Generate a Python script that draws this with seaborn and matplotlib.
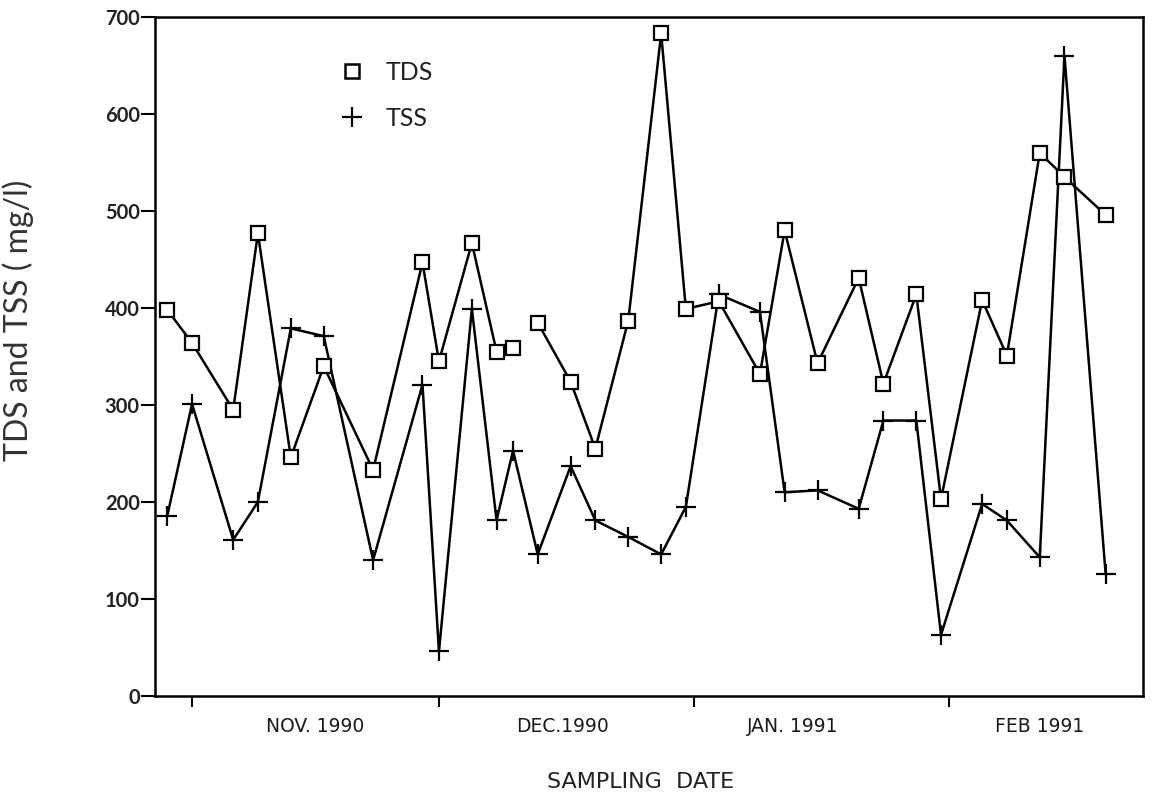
import matplotlib
matplotlib.use("Agg")
import matplotlib.pyplot as plt
import matplotlib.dates as mdates
from matplotlib.lines import Line2D
from matplotlib.ticker import FixedLocator, NullFormatter, FixedFormatter
import pandas as pd
import seaborn as sns

# Sampling campaign, Oct 1990 - Feb 1991
sampling_dates = [
    "1990-10-29", "1990-11-01", "1990-11-06", "1990-11-09", "1990-11-13",
    "1990-11-17", "1990-11-23", "1990-11-29", "1990-12-01", "1990-12-05",
    "1990-12-08", "1990-12-10", "1990-12-13", "1990-12-17", "1990-12-20",
    "1990-12-24", "1990-12-28", "1990-12-31", "1991-01-04", "1991-01-09",
    "1991-01-12", "1991-01-16", "1991-01-21", "1991-01-24", "1991-01-28",
    "1991-01-31", "1991-02-05", "1991-02-08", "1991-02-12", "1991-02-15",
    "1991-02-20",
]
tds = [398, 364, 295, 477, 246, 340, 233, 447, 345, 467,
       355, 359, 385, 324, 255, 387, 683, 399, 407, 332,
       480, 343, 431, 322, 414, 203, 408, 351, 560, 535,
       496]
tss = [186, 301, 161, 200, 379, 371, 140, 321, 46, 399,
       181, 253, 146, 237, 181, 164, 146, 195, 414, 396,
       210, 212, 193, 284, 284, 63, 198, 181, 143, 660,
       126]
# TDS trace is drawn as separate connected runs
tds_run = [0] * 11 + [1] + [2] * 19

month_starts = ["1990-11-01", "1990-12-01", "1991-01-01", "1991-02-01"]
month_labels = ["NOV. 1990", "DEC.1990", "JAN. 1991", "FEB 1991"]
month_label_dates = ["1990-11-16", "1990-12-16", "1991-01-13", "1991-02-12"]
y_ticks = [0, 100, 200, 300, 400, 500, 600, 700]

df = pd.DataFrame({
    "date": pd.to_datetime(sampling_dates),
    "TDS": tds,
    "TSS": tss,
    "run": tds_run,
})

sns.set_theme(style="white")
plt.rcParams["font.family"] = ["Lato", "DejaVu Sans"]

W, H = 1154, 793
fig = plt.figure(figsize=(W / 100, H / 100), dpi=100)
fig.patch.set_facecolor("white")
ax = fig.add_axes([155 / W, 97 / H, 988 / W, 679 / H])

sns.lineplot(data=df, x="date", y="TSS", estimator=None, sort=False,
             color="black", lw=1.8, marker="+", ms=15, mew=1.6,
             mec="black", ax=ax)
sns.lineplot(data=df, x="date", y="TDS", units="run", estimator=None,
             sort=False, color="black", lw=1.8, marker="s", ms=10.5,
             mfc="white", mec="black", mew=1.6, ax=ax)

ax.set_xlim(pd.Timestamp("1990-10-27 12:00"), pd.Timestamp("1991-02-24 13:00"))
ax.set_ylim(0, 700)

# month boundaries as ticks, month names centred inside each month
ax.xaxis.set_major_locator(FixedLocator(mdates.date2num(pd.to_datetime(month_starts))))
ax.xaxis.set_major_formatter(NullFormatter())
ax.xaxis.set_minor_locator(FixedLocator(mdates.date2num(pd.to_datetime(month_label_dates))))
ax.xaxis.set_minor_formatter(FixedFormatter(month_labels))
ax.tick_params(axis="x", which="major", bottom=True, length=8, width=1.5,
               direction="out", color="black")
ax.tick_params(axis="x", which="minor", bottom=True, length=0, pad=15,
               labelsize=13.5, labelcolor="#1a1a1a")
for t in ax.xaxis.get_minorticklabels():
    t.set_family(["DejaVu Sans"])

ax.set_yticks(y_ticks)
ax.set_yticklabels([str(v) for v in y_ticks], fontweight="bold")
ax.tick_params(axis="y", which="major", left=True, length=10, width=1.5,
               direction="out", color="black", labelsize=14.5, pad=1,
               labelcolor="#222222")

for side in ["left", "right", "top", "bottom"]:
    ax.spines[side].set_visible(True)
    ax.spines[side].set_color("black")
    ax.spines[side].set_linewidth(1.8)

ax.set_xlabel("SAMPLING  DATE", fontsize=16, color="#222222",
              family=["DejaVu Sans"])
ax.xaxis.set_label_coords(0.491, -0.112)
ax.set_ylabel("TDS and TSS ( mg/l)", fontsize=23, color="#333333",
              fontweight="normal")
ax.yaxis.set_label_coords(-0.122, 0.554)

handles = [
    Line2D([], [], ls="none", marker="s", ms=10, mfc="white", mec="black", mew=1.8),
    Line2D([], [], ls="none", marker="+", ms=15, mec="black", mew=1.6),
]
leg = ax.legend(handles, ["TDS", "TSS"], loc="upper left",
                bbox_to_anchor=(0.187, 0.935), frameon=False, fontsize=18,
                handlelength=1.0, handletextpad=0.85, labelspacing=0.9,
                borderpad=0, borderaxespad=0)
for t in leg.get_texts():
    t.set_color("#222222")

fig.savefig("out.png", dpi=100, facecolor="white")
